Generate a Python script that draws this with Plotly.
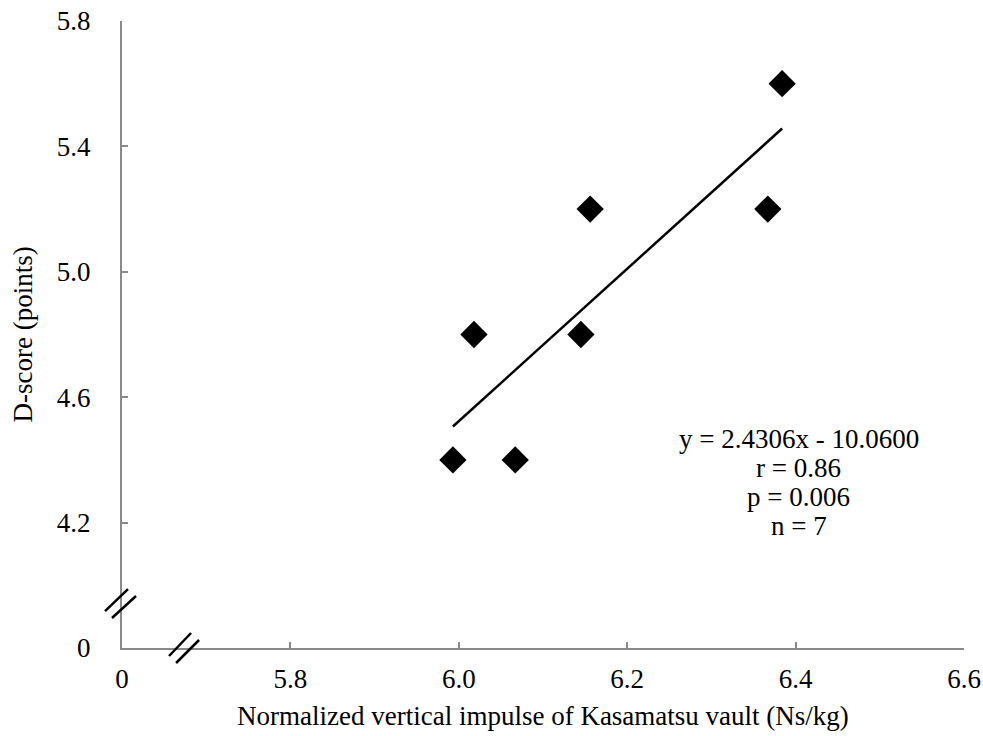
import plotly.graph_objects as go

# Data
impulse = [5.993, 6.018, 6.067, 6.145, 6.156, 6.367, 6.384]
dscore = [4.4, 4.8, 4.4, 4.8, 5.2, 5.2, 5.6]
slope = 2.4306
intercept = -10.0600

x_tickvals = [5.6, 5.8, 6.0, 6.2, 6.4, 6.6]
x_ticktext = ["0", "5.8", "6.0", "6.2", "6.4", "6.6"]
y_tickvals = [3.8, 4.2, 4.6, 5.0, 5.4, 5.8]
y_ticktext = ["0", "4.2", "4.6", "5.0", "5.4", "5.8"]

stats_lines = ["y = 2.4306x - 10.0600", "r = 0.86", "p = 0.006", "n = 7"]
x_title = "Normalized vertical impulse of Kasamatsu vault (Ns/kg)"
y_title = "D-score (points)"

FONT = "Liberation Serif"
FS = 27
AXC = "#8a8a8a"

fit_x = [min(impulse), max(impulse)]
fit_y = [slope * v + intercept for v in fit_x]

fig = go.Figure()
fig.add_trace(go.Scatter(x=fit_x, y=fit_y, mode="lines",
                         line=dict(color="black", width=2.5), hoverinfo="skip"))
fig.add_trace(go.Scatter(x=impulse, y=dscore, mode="markers",
                         marker=dict(symbol="diamond", size=21, color="black")))

fig.update_layout(
    width=983, height=736,
    margin=dict(l=122, r=19, t=21, b=88),
    paper_bgcolor="white", plot_bgcolor="white",
    showlegend=False,
    font=dict(family=FONT, size=FS, color="black"),
    xaxis=dict(range=[5.6, 6.6], tickvals=x_tickvals, ticktext=x_ticktext, automargin=False,
               showgrid=False, zeroline=False, showline=True, linecolor=AXC, linewidth=2,
               ticks="inside", ticklen=6, tickcolor=AXC, tickwidth=1.5,
               tickfont=dict(family=FONT, size=FS), ticklabelstandoff=6),
    yaxis=dict(range=[3.8, 5.8], tickvals=y_tickvals, ticktext=y_ticktext, automargin=False,
               showgrid=False, zeroline=False, showline=True, linecolor=AXC, linewidth=2,
               ticks="inside", ticklen=6, tickcolor=AXC, tickwidth=1.5,
               tickfont=dict(family=FONT, size=FS), ticklabelstandoff=24),
)

# Statistics text block: one annotation per line, 29 px apart
top_px_from_axis = 209  # first line centre, pixels above the x axis
for i, line in enumerate(stats_lines):
    fig.add_annotation(x=6.404, xref="x", y=0.0765 * 0 + (top_px_from_axis - 29 * i) / 627,
                       yref="y domain", text=line, showarrow=False,
                       xanchor="center", yanchor="middle",
                       font=dict(family=FONT, size=FS, color="black"))

# Axis titles
fig.add_annotation(x=0.5, y=-0.1085, xref="paper", yref="paper", text=x_title,
                   showarrow=False, xanchor="center", yanchor="middle",
                   font=dict(family=FONT, size=FS, color="black"))
fig.add_annotation(x=-0.1176, y=0.5, xref="paper", yref="paper", text=y_title, textangle=-90,
                   showarrow=False, xanchor="center", yanchor="middle",
                   font=dict(family=FONT, size=FS, color="black"))

# Axis-break marks (pixel-sized shapes anchored on the axes, unclipped)
def brk(xa, ya, segs):
    for (a, b, c, d) in segs:
        fig.add_shape(type="line", xref="x domain", yref="y domain",
                      xsizemode="pixel", ysizemode="pixel", xanchor=xa, yanchor=ya,
                      x0=a, y0=b, x1=c, y1=d, line=dict(color="black", width=2.5))

brk(0.0, 0.0765, [(-17, -11, 6, 11), (-10, -18, 14, 4)])
brk(0.0725, 0.0, [(-14, -8, 8, 15), (-7, -15, 16, 8)])

fig.write_html("out.html")
